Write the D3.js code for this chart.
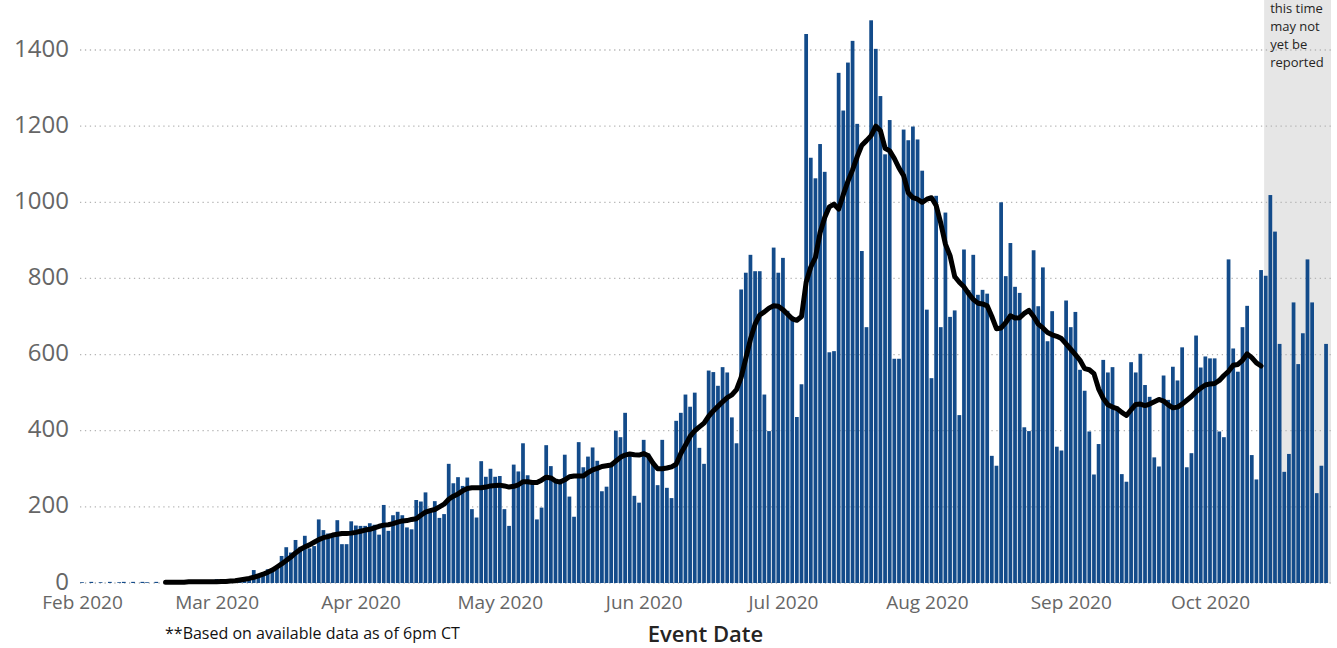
<!DOCTYPE html>
<html>
<head>
<meta charset="utf-8">
<script src="https://cdn.jsdelivr.net/npm/d3@7"></script>
<style>
  html, body { margin: 0; padding: 0; background: #fff; }
  svg { display: block; font-family: "Open Sans", sans-serif; }
</style>
</head>
<body>
<svg id="chart" width="1337" height="648"></svg>
<script>
// daily cases by event date, one array per month
const febCases = [2,0,3,0,2,0,3,0,2,3,0,3,0,3,2,0,3,0,2,1,2,1,2,2,1,2,3,3,4];
const marCases = [10,3,4,5,7,9,12,15,34,24,24,36,38,43,71,94,80,113,95,124,91,97,167,139,130,122,165,102,102,162,151];
const aprCases = [150,150,157,153,127,205,137,178,187,178,146,141,218,214,238,192,215,171,181,313,262,278,255,277,194,172,320,279,300,279];
const mayCases = [281,194,150,311,293,367,283,270,167,198,362,307,270,262,337,227,174,370,304,332,356,321,241,253,314,400,383,447,340,229,211];
const junCases = [376,340,315,257,376,250,223,426,447,495,463,500,355,313,558,554,518,567,553,435,367,771,815,862,819,819,495,399,881,815];
const julCases = [854,715,700,436,522,1442,1117,1063,1153,1080,606,609,1340,1241,1367,1424,1206,872,672,1478,1403,1279,1126,1216,589,589,1191,1163,1199,1165,1083];
const augCases = [718,538,1017,672,973,699,716,441,876,769,862,757,770,760,334,308,1000,806,893,778,762,409,399,874,727,829,635,714,358,348,742];
const sepCases = [672,712,560,505,398,285,365,586,553,567,463,286,266,580,553,602,520,489,330,306,545,481,568,532,619,304,341,650,566,595];
const octCases = [590,590,398,383,850,616,555,672,728,336,272,822,807,1019,923,628,292,339,737,575,656,850,737,236,308,628];

// 7-day average line, starts Feb 19, ends Oct 12
const febAvg = [2,2,2,2,2,3,3,3,3,3,3];
const marAvg = [3,4,4,5,6,8,10,12,15,19,23,28,34,42,50,59,68,79,88,95,100,107,114,119,122,126,128,130,130,131,133];
const aprAvg = [136,139,141,145,149,152,153,156,160,163,164,167,169,178,186,190,193,200,207,220,228,234,242,248,250,250,250,252,255,256];
const mayAvg = [257,255,252,254,258,266,266,264,264,270,278,276,268,265,271,279,281,281,281,290,297,301,306,308,310,320,330,336,339,337,336];
const junAvg = [340,334,315,300,300,302,305,312,340,362,385,400,410,420,438,452,464,476,487,494,508,540,590,640,680,704,712,722,728,727];
const julAvg = [718,706,694,690,700,790,830,855,920,960,988,995,982,1020,1055,1085,1120,1150,1162,1175,1200,1188,1142,1135,1115,1090,1070,1025,1012,1008,1000];
const augAvg = [1008,1012,992,945,890,860,805,790,778,760,745,735,733,728,700,668,670,684,702,696,697,708,716,700,680,670,658,652,648,642,628];
const sepAvg = [614,600,585,563,560,550,510,485,468,462,458,448,440,455,469,470,466,470,476,482,478,468,460,462,470,480,490,502,512,520];
const octAvg = [523,524,532,545,556,572,574,585,602,592,578,570];

const casesStart = Date.UTC(2020, 1, 1);
const avgStart = Date.UTC(2020, 1, 19);
const pendingStart = Date.UTC(2020, 9, 12, 16);
const monthTicks = [1, 2, 3, 4, 5, 6, 7, 8, 9].map(m => new Date(Date.UTC(2020, m, 1)));
const yTicks = [0, 200, 400, 600, 800, 1000, 1200, 1400];
const noteLines = ["this time", "may not", "yet be", "reported"];

const cases = [febCases, marCases, aprCases, mayCases, junCases, julCases, augCases, sepCases, octCases].flat()
    .map((v, i) => ({ date: d3.utcDay.offset(new Date(casesStart), i), value: v }));
const avg = [febAvg, marAvg, aprAvg, mayAvg, junAvg, julAvg, augAvg, sepAvg, octAvg].flat()
    .map((v, i) => ({ date: d3.utcDay.offset(new Date(avgStart), i), value: v }));

const svg = d3.select("#chart");
const plotLeft = 80, plotRight = 1331, baseY = 583;

const x = d3.scaleUtc()
    .domain([new Date(Date.UTC(2020, 1, 1)), new Date(Date.UTC(2020, 9, 1))])
    .range([82, 1210]);
const y = d3.scaleLinear().domain([0, 1400]).range([baseY, 50]);

const step = x(new Date(Date.UTC(2020, 1, 2))) - x(new Date(Date.UTC(2020, 1, 1)));
const barW = step - 0.9;

// grey "may not yet be reported" band
svg.append("rect")
    .attr("x", x(new Date(pendingStart)))
    .attr("y", 0)
    .attr("width", plotRight - x(new Date(pendingStart)))
    .attr("height", baseY)
    .attr("fill", "#e6e6e6");

svg.append("g")
    .selectAll("text")
    .data(noteLines)
    .join("text")
    .attr("x", x(new Date(pendingStart)) + 6)
    .attr("y", (d, i) => 13 + i * 18)
    .attr("font-size", 13)
    .attr("fill", "#252423")
    .text(d => d);

// dotted gridlines
svg.append("g")
    .selectAll("line")
    .data(yTicks)
    .join("line")
    .attr("x1", plotLeft)
    .attr("x2", plotRight)
    .attr("y1", d => y(d))
    .attr("y2", d => y(d))
    .attr("stroke", "#b5b5b5")
    .attr("stroke-width", 1.3)
    .attr("stroke-dasharray", "1.3,3.6");

// bars
svg.append("g")
    .selectAll("rect")
    .data(cases)
    .join("rect")
    .attr("x", d => x(d.date) - barW / 2)
    .attr("y", d => y(d.value))
    .attr("width", barW)
    .attr("height", d => baseY - y(d.value))
    .attr("fill", "#134b8a");

// 7-day average
svg.append("path")
    .datum(avg)
    .attr("fill", "none")
    .attr("stroke", "#000")
    .attr("stroke-width", 5)
    .attr("stroke-linejoin", "round")
    .attr("stroke-linecap", "round")
    .attr("d", d3.line().x(d => x(d.date)).y(d => y(d.value)));

// axes
const xAxis = svg.append("g")
    .attr("transform", `translate(0,${baseY})`)
    .call(d3.axisBottom(x).tickValues(monthTicks).tickFormat(d3.utcFormat("%b %Y")).tickSize(0).tickPadding(13));
xAxis.select(".domain").remove();
xAxis.selectAll("text")
    .attr("font-family", "Open Sans, sans-serif")
    .attr("font-size", 19)
    .attr("fill", "#666");

const yAxis = svg.append("g")
    .attr("transform", `translate(${plotLeft},0)`)
    .call(d3.axisLeft(y).tickValues(yTicks).tickFormat(d3.format("d")).tickSize(0).tickPadding(11));
yAxis.select(".domain").remove();
yAxis.selectAll("text")
    .attr("font-family", "Open Sans, sans-serif")
    .attr("font-size", 24)
    .attr("dy", "0.25em")
    .attr("fill", "#666");

svg.append("text")
    .attr("x", (plotLeft + plotRight) / 2)
    .attr("y", 642)
    .attr("text-anchor", "middle")
    .attr("font-family", "Open Sans, sans-serif")
    .attr("font-weight", 600)
    .attr("font-size", 22)
    .attr("fill", "#252423")
    .text("Event Date");

svg.append("text")
    .attr("x", 165)
    .attr("y", 639)
    .attr("font-size", 16)
    .attr("fill", "#111")
    .text("**Based on available data as of 6pm CT");
</script>
</body>
</html>
